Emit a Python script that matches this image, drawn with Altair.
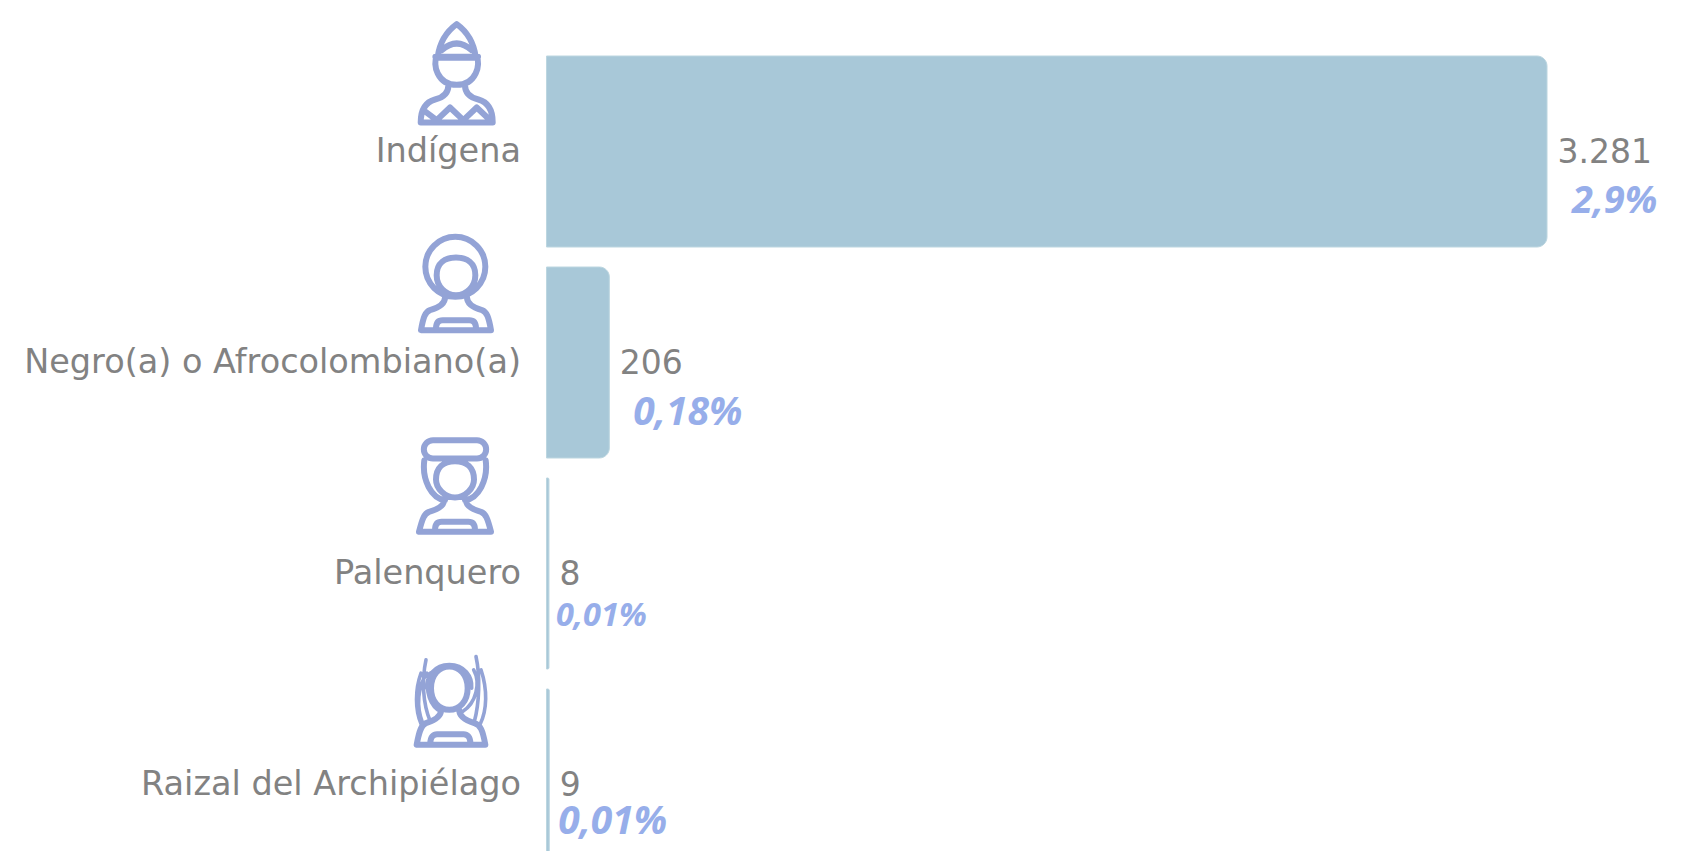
import altair as alt
import pandas as pd

categorias = ["Indígena", "Negro(a) o Afrocolombiano(a)", "Palenquero", "Raizal del Archipiélago"]
valores = [3281, 206, 8, 9]
etiquetas = ["3.281", "206", "8", "9"]
porcentajes = ["2,9%", "0,18%", "0,01%", "0,01%"]

df = pd.DataFrame({"cat": categorias, "v": valores, "et": etiquetas, "pct": porcentajes})

AZUL = "#a8c8d8"
BORDE = "#bcd6e0"
GRIS = "#828282"
LILA = "#93a3d6"
PCT = "#97aeea"
FUENTE = "DejaVu Sans"
FUENTE_PCT = "Open Sans"

xs = alt.Scale(domain=[0, 3281], range=[0, 1000.5])
ys = alt.Scale(domain=categorias, range=[48, 872], paddingInner=20 / 211, paddingOuter=0)
EJE = alt.Axis(domain=False, ticks=False, grid=False, labelPadding=26, labelLimit=600,
               labelFont=FUENTE, labelFontSize=33.5, labelColor=GRIS)
X = alt.X("v:Q", scale=xs, axis=None, stack=None)
Y = alt.Y("cat:N", scale=ys, sort=categorias, title=None, axis=EJE)

bars = alt.Chart(df).mark_bar(color=AZUL, stroke=BORDE, strokeWidth=1, cornerRadiusEnd=10).encode(x=X, y=Y)

valtext = alt.Chart(df).mark_text(align="left", baseline="middle", dx=10.5, dy=1, font=FUENTE, fontSize=33, color=GRIS).encode(
    x=X, y=Y, text="et:N")


def pct_layer(i, dx, dy, size):
    return alt.Chart(df.iloc[[i]]).mark_text(
        align="left", baseline="middle", dx=dx, dy=dy, font=FUENTE_PCT, fontSize=size,
        fontWeight="bold", fontStyle="italic", color=PCT,
    ).encode(x=X, y=Y, text="pct:N")


pcts = [pct_layer(0, 25, 50, 38), pct_layer(1, 24, 50, 39), pct_layer(2, 7, 42, 32.5), pct_layer(3, 9, 37, 39)]

CUERPO = ("M-33,42 C-33,62 -50,72 -78,80 C-92,85 -98,100 -105,140 L105,140 "
          "C98,100 92,85 78,80 C50,72 33,62 33,42 "
          "M-60,135 C-60,115 -50,110 -40,110 L40,110 C50,110 60,115 60,135")

ICONOS = [
    # Indígena
    ("M-60,-50 C-72,-30 -60,34 0,34 C60,34 72,-30 60,-50 Z "
     "M-64,-50 L64,-50 M-58,-47 L58,-47 "
     "M-57,-50 C-50,-100 -25,-130 0,-148 C25,-130 50,-100 57,-50 "
     "M-45,-70 Q0,-110 45,-70 "
     "M-25,36 C-25,60 -40,72 -65,78 C-90,85 -108,105 -108,147 L108,147 "
     "C108,105 90,85 65,78 C40,72 25,60 25,36 "
     "M-100,110 L-60,140 L-20,102 L20,140 L60,102 L95,135"),
    # Negro(a)
    ("M-92,-50 A90,90 0 1 1 88,-50 A90,90 0 1 1 -92,-50 Z "
     "M-58,-25 C-58,-62 -33,-78 0,-78 C33,-78 58,-62 58,-25 C58,8 32,35 0,35 C-32,35 -58,8 -58,-25 Z "
     + CUERPO),
    # Palenquero
    ("M-66,-130 L66,-130 A27,27 0 0 1 66,-75 L-66,-75 A27,27 0 0 1 -66,-130 Z "
     "M-57,-12 C-57,-47 -35,-67 0,-67 C35,-67 57,-47 57,-12 C57,15 30,42 0,42 C-30,42 -57,15 -57,-12 Z "
     "M-92,-70 C-100,-10 -70,45 -30,50 M92,-70 C100,-10 70,45 30,50 "
     "M-33,50 C-33,67 -50,77 -78,85 C-92,90 -98,105 -108,145 L108,145 "
     "C98,105 92,90 78,85 C50,77 33,67 33,50 "
     "M-60,140 C-60,120 -50,115 -40,115 L40,115 C50,115 60,120 60,140"),
    # Raizal
    ("M-60,-25 C-60,-65 -35,-90 -5,-90 C25,-90 50,-65 50,-25 C50,15 25,40 -5,40 C-35,40 -60,15 -60,-25 Z "
     "M-30,42 C-30,62 -50,72 -75,80 C-88,85 -95,100 -103,145 L103,145 "
     "C95,100 88,85 70,80 C45,72 25,62 25,42 "
     "M-62,140 C-62,120 -52,113 -42,113 L38,113 C48,113 58,120 58,140"),
]

PELO = ("M-72,-70 C-100,-30 -105,30 -85,80 M-90,-70 C-108,-20 -108,40 -90,82 "
        "M-75,-110 C-88,-50 -85,20 -62,75 M-62,-70 C-78,-40 -72,15 -40,40 "
        "M75,-120 C88,-60 85,20 70,75 M90,-80 C110,-20 108,40 88,82 "
        "M68,-80 C90,-40 75,20 35,45 M-5,-96 C-50,-96 -75,-60 -72,-25 M-5,-96 C40,-96 65,-60 62,-25")

POS = [(-89.8, -78), (-90.5, -79), (-91.5, -90), (-95.5, -88)]


def icono(i, path, sw):
    px, off = POS[i]
    return alt.Chart(df.iloc[[i]]).mark_point(
        shape=path, size=4 / 9, filled=False, stroke=LILA, strokeWidth=sw, opacity=1,
        strokeJoin="round", strokeCap="round", yOffset=off,
    ).encode(x=alt.value(px), y=Y)


iconos = [icono(i, p, 6) for i, p in enumerate(ICONOS)] + [icono(3, PELO, 3.6)]

chart = alt.layer(bars, valtext, *pcts, *iconos).properties(
    width=1127, height=843,
    autosize=alt.AutoSizeParams(type="none"),
    padding={"left": 538.5, "top": 0, "right": 0, "bottom": 0},
).configure_view(stroke=None)

chart.save("out.html", embed_options={"renderer": "svg", "actions": False})
